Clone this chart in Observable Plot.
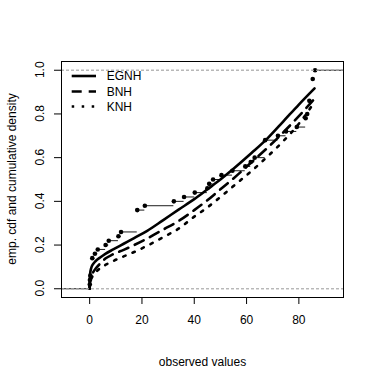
<!DOCTYPE html>
<html><head><meta charset="utf-8">
<script src="https://cdn.jsdelivr.net/npm/d3@7"></script>
<script src="https://cdn.jsdelivr.net/npm/@observablehq/plot@0.6"></script>
<style>
body{margin:0;background:#fff;}
svg{display:block;font-family:"Liberation Sans",Arial,Helvetica,sans-serif;}
#chart svg text{font-size:12px;}
</style>
</head><body><div id="chart"></div>
<script>
// empirical cdf (observed values and their ecdf heights)
const ecdfX = [0.05, 0.1, 0.25, 1.0, 2.0, 3.1, 6.1, 7.3, 11.0, 12.0, 18.2, 21.1, 32.2, 36.1, 40.2, 45.0, 45.7, 47.2, 50.4, 54.6, 59.5, 61.6, 63.1, 67.1, 72.0, 75.1, 79.2, 82.6, 83.2, 84.0, 85.3, 86.2];
const ecdfF = [0.02, 0.04, 0.06, 0.14, 0.16, 0.18, 0.20, 0.22, 0.24, 0.26, 0.36, 0.38, 0.40, 0.42, 0.44, 0.46, 0.48, 0.50, 0.52, 0.54, 0.56, 0.58, 0.60, 0.68, 0.70, 0.72, 0.74, 0.78, 0.80, 0.86, 0.96, 1.00];

// fitted cumulative densities, read at these x values
const fitX = [0, 0.05, 0.2, 0.6, 1.3, 2.3, 4, 6, 9, 13, 17, 22, 28, 34, 40, 45, 50, 55, 62, 68, 74, 80, 86];
const egnh = [0, 0.04, 0.07, 0.095, 0.113, 0.127, 0.143, 0.16, 0.18, 0.206, 0.232, 0.265, 0.313, 0.362, 0.41, 0.455, 0.50, 0.549, 0.622, 0.688, 0.765, 0.843, 0.917];
const bnh  = [0, 0.022, 0.04, 0.058, 0.075, 0.092, 0.115, 0.138, 0.158, 0.178, 0.20, 0.23, 0.27, 0.31, 0.36, 0.405, 0.455, 0.505, 0.58, 0.645, 0.715, 0.79, 0.87];
const knh  = [0, 0.015, 0.028, 0.045, 0.06, 0.075, 0.094, 0.109, 0.127, 0.148, 0.168, 0.197, 0.235, 0.275, 0.33, 0.372, 0.42, 0.47, 0.54, 0.605, 0.675, 0.755, 0.855];

const seriesNames = ["EGNH", "BNH", "KNH"];
const seriesValues = [egnh, bnh, knh];
const seriesDash = [null, "10,7", "2.5,7.5"];

const xTicks = [0, 20, 40, 60, 80];
const yTicks = [0, 0.2, 0.4, 0.6, 0.8, 1.0];
const xLabel = "observed values";
const yLabel = "emp. cdf and cumulative density";
const xDomain = [-10.77, 97.07];
const yDomain = [-0.04, 1.04];

const points = ecdfX.map((x, i) => ({x, y: ecdfF[i]}));
const steps = ecdfX.map((x, i) => ({x1: x, x2: i < ecdfX.length - 1 ? ecdfX[i + 1] : xDomain[1], y: ecdfF[i]}));
steps.unshift({x1: xDomain[0], x2: ecdfX[0], y: 0});

const lineMarks = seriesNames.map((name, k) =>
  Plot.line(fitX.map((x, i) => ({x, y: seriesValues[k][i]})), {
    x: "x", y: "y", stroke: "#000", strokeWidth: 2.6,
    strokeDasharray: seriesDash[k] || undefined, curve: "monotone-x"
  })
);

const FONT = '"Liberation Sans",Arial,Helvetica,sans-serif';
const plot = Plot.plot({
  width: 374, height: 374,
  marginLeft: 61, marginRight: 31, marginTop: 61, marginBottom: 77,
  style: {fontFamily: FONT, fontSize: "12px", background: "#fff", color: "#000"},
  x: {domain: xDomain},
  y: {domain: yDomain},
  marks: [
    Plot.ruleY([0, 1], {stroke: "#b3b3b3", strokeDasharray: "3,2"}),
    Plot.ruleY(steps, {y: "y", x1: "x1", x2: "x2", stroke: "#000", strokeWidth: 0.9}),
    ...lineMarks,
    Plot.dot(points, {x: "x", y: "y", r: 2.3, fill: "#000", stroke: "none"}),
    Plot.ruleY([0, 1], {stroke: "#b3b3b3", strokeDasharray: "3,2"}),
    Plot.frame({stroke: "#000"}),
    Plot.axisX({ticks: xTicks, tickSize: 7, tickPadding: 11,
      label: xLabel, labelAnchor: "center", labelArrow: "none", labelOffset: 68}),
    Plot.axisY({ticks: yTicks, tickSize: 7, text: null, label: null})
  ]
});
document.getElementById("chart").appendChild(plot);

const svg = d3.select(plot);
const ys = plot.scale("y");
// rotated y tick labels and y title (R style, las = 0)
const yg = svg.append("g").attr("font-family", FONT).attr("fill", "#000").attr("text-anchor", "middle");
yTicks.forEach(v => {
  yg.append("text").attr("transform", `translate(44,${ys.apply(v)}) rotate(-90)`).text(d3.format(".1f")(v));
});
yg.append("text").attr("transform", `translate(16,${ys.apply(0.5)}) rotate(-90)`).text(yLabel);

// legend inside the plot (top-left), as in the reference
const lg = svg.append("g").attr("font-family", FONT).attr("text-anchor", "start");
const legendY = [76, 91.5, 106.5];
seriesNames.forEach((name, k) => {
  lg.append("line").attr("x1", 71.7).attr("x2", 96).attr("y1", legendY[k]).attr("y2", legendY[k])
    .attr("stroke", "#000").attr("stroke-width", 2.6)
    .attr("stroke-dasharray", seriesDash[k] || null);
  lg.append("text").attr("x", 106.7).attr("y", legendY[k] + 4.3).attr("fill", "#000").text(name);
});
</script>
</body></html>
